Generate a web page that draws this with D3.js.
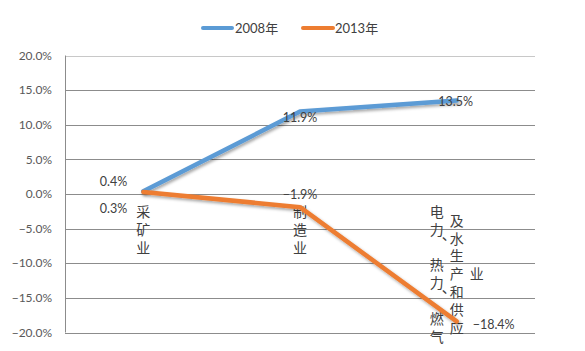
<!DOCTYPE html>
<html><head><meta charset="utf-8">
<script src="https://cdn.jsdelivr.net/npm/d3@7/dist/d3.min.js"></script>
<style>body{margin:0;background:#fff}svg{display:block}</style>
</head><body>
<svg id="c" width="585" height="351"></svg>
<script>
const categories = ["采矿业", "制造业", "电力、热力、燃气及水生产和供应业"];
const categoryColumns = [["采矿业"], ["制造业"], ["电力、热力、燃气", "及水生产和供应", "业"]];
const seriesNames = ["2008年", "2013年"];
const values2008 = [0.4, 11.9, 13.5];
const values2013 = [0.3, -1.9, -18.4];
const yTicks = [20, 15, 10, 5, 0, -5, -10, -15, -20];
const colors = ["#5b9bd5", "#ed7d31"];

const svg = d3.select("#c");
const m = {l: 65, r: 535, t: 55.5, b: 332.5};
const x = d3.scaleBand().domain(categories).range([m.l, m.r]);
const y = d3.scaleLinear().domain([-20, 20]).range([m.b, m.t]);
const font = "Lato, 'Noto Sans CJK SC', sans-serif";
const cjk = "'Noto Sans CJK SC', sans-serif";

const defs = svg.append("defs");
const f = defs.append("filter").attr("id", "sh").attr("x", "-10%").attr("y", "-10%").attr("width", "120%").attr("height", "130%");
f.append("feDropShadow").attr("dx", 1.5).attr("dy", 2).attr("stdDeviation", 1.5).attr("flood-color", "#000").attr("flood-opacity", 0.35);

// gridlines
svg.append("g").selectAll("line").data(yTicks).join("line")
  .attr("x1", m.l).attr("x2", m.r)
  .attr("y1", d => Math.round(y(d)) + 0.5).attr("y2", d => Math.round(y(d)) + 0.5)
  .attr("stroke", d => d === 20 ? "#c8c8c8" : "#8c8c8c").attr("stroke-width", 1);
// y axis line
svg.append("line").attr("x1", m.l + 0.5).attr("x2", m.l + 0.5).attr("y1", m.t).attr("y2", m.b)
  .attr("stroke", "#8c8c8c");

// y tick labels
svg.append("g").selectAll("text").data(yTicks).join("text")
  .attr("x", 52).attr("y", d => y(d)).attr("dy", "0.35em")
  .attr("text-anchor", "end").attr("font-family", font).attr("font-size", 12).attr("fill", "#595959")
  .text(d => d3.format(".1f")(d) + "%");

// category labels (vertical stacked)
const adv = 17.8, blockTop = 203, colGap = 20;
categories.forEach((c, i) => {
  const cols = categoryColumns[i];
  const cx = x(c) + x.bandwidth() / 2;
  const maxN = d3.max(cols, s => s.length);
  const midY = blockTop + maxN * adv / 2;
  cols.forEach((s, j) => {
    const colX = cx + (j - (cols.length - 1) / 2) * colGap;
    const top = midY - s.length * adv / 2;
    Array.from(s).forEach((ch, k) => {
      const cyy = top + k * adv + adv / 2;
      const punct = ch === "、";
      svg.append("text")
        .attr("x", punct ? colX + 12 : colX).attr("y", punct ? cyy - 13 : cyy)
        .attr("dy", "0.36em").attr("text-anchor", "middle")
        .attr("font-family", cjk).attr("font-size", 14).attr("fill", "#404040")
        .text(ch);
    });
  });
});

// lines
const line = d3.line().x((d, i) => x(categories[i]) + x.bandwidth() / 2).y(d => y(d));
[values2008, values2013].forEach((vals, s) => {
  svg.append("path").datum(vals).attr("d", line)
    .attr("fill", "none").attr("stroke", colors[s]).attr("stroke-width", 4.5)
    .attr("stroke-linejoin", "round").attr("stroke-linecap", "round").attr("filter", "url(#sh)");
});

// data labels
const px = i => x(categories[i]) + x.bandwidth() / 2;
const lab = (txt, xx, yy, anchor) => svg.append("text").attr("x", xx).attr("y", yy).attr("dy", "0.35em")
  .attr("text-anchor", anchor).attr("font-family", font).attr("font-size", 12.5).attr("fill", "#404040").text(txt);
const fmt = v => d3.format(".1f")(v) + "%";
lab(fmt(values2008[0]), px(0) - 16, y(values2008[0]) - 10, "end");
lab(fmt(values2013[0]), px(0) - 16, y(values2013[0]) + 17, "end");
lab(fmt(values2008[1]), px(1), y(values2008[1]) + 6, "middle");
lab(fmt(values2013[1]), px(1), y(values2013[1]) - 13, "middle");
lab(fmt(values2008[2]), px(2) - 1, y(values2008[2]) + 1, "middle");
lab(fmt(values2013[2]), px(2) + 16, y(values2013[2]) + 3, "start");

// legend
const lg = svg.append("g");
[[203, 232, 235], [303, 333, 335]].forEach((p, i) => {
  lg.append("line").attr("x1", p[0]).attr("x2", p[1]).attr("y1", 28).attr("y2", 28)
    .attr("stroke", colors[i]).attr("stroke-width", 4).attr("stroke-linecap", "round");
  lg.append("text").attr("x", p[2]).attr("y", 28).attr("dy", "0.35em").attr("font-family", font)
    .attr("font-size", 13).attr("fill", "#404040").text(seriesNames[i]);
});
</script>
</body></html>
